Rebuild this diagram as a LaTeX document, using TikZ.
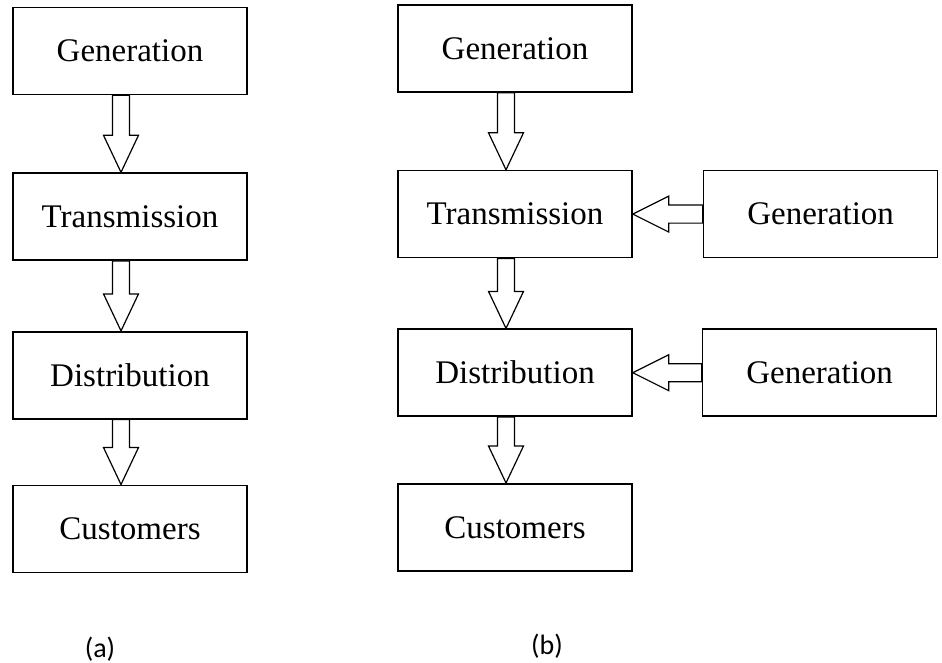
\documentclass[tikz,border=0pt]{standalone}
\usepackage{fontspec}
\setmainfont{Liberation Serif}
\newfontfamily\captionfont{Carlito}
\usetikzlibrary{positioning,calc}

% hollow block arrow going down from #1 to #2
\newcommand{\flowdown}[2]{%
    \draw[blockarrow]
        ($(#1.south)+(-17.5,0)$) -- ($(#1.south |- #2.north)+(-17.5,-37)$)
        -- ($(#1.south |- #2.north)+(-26.5,-37)$) -- ($(#1.south |- #2.north)+(-9,0)$)
        -- ($(#1.south |- #2.north)+(8.5,-37)$) -- ($(#1.south |- #2.north)+(-0.5,-37)$)
        -- ($(#1.south)+(-0.5,0)$) -- cycle;
}
% hollow block arrow going left from #1 to #2
\newcommand{\flowleft}[2]{%
    \draw[blockarrow]
        ($(#1.west)+(0,-9)$) -- ($(#1.west -| #2.east)+(36,-9)$)
        -- ($(#1.west -| #2.east)+(36,-18)$) -- (#1.west -| #2.east)
        -- ($(#1.west -| #2.east)+(36,18)$) -- ($(#1.west -| #2.east)+(36,9)$)
        -- ($(#1.west)+(0,9)$) -- cycle;
}

\begin{document}
\begin{tikzpicture}[%
    x=1pt, y=-1pt,
    box/.style={%
        draw,
        rectangle,
        line width=1.6pt,
        minimum width=234pt,
        minimum height=87pt,
        inner sep=2pt,
        font=\fontsize{33}{40}\selectfont
    },
    blockarrow/.style={%
        draw,
        fill=white,
        line width=1.2pt,
        line join=miter
    },
    caption/.style={%
        inner sep=0pt,
        font=\captionfont\fontsize{28}{32}\selectfont
    }
]
\useasboundingbox (0,0) rectangle (942,663);

% (a) single chain
\node[box] (genA) at (130,51) {Generation};
\node[box, below=77pt of genA] (transA) {Transmission};
\node[box, below=70pt of transA] (distA) {Distribution};
\node[box, below=65pt of distA] (custA) {Customers};

% (b) chain with extra generation
\node[box] (genB) at (515,48.5) {Generation};
\node[box, below=77pt of genB] (transB) {Transmission};
\node[box, below=70pt of transB] (distB) {Distribution};
\node[box, below=66pt of distB] (custB) {Customers};
\node[box, right=70pt of transB] (genC) {Generation};
\node[box, right=69pt of distB] (genD) {Generation};

% Captions
\node[caption] (capA) at (100,649) {(a)};
\node[caption] (capB) at (547,646) {(b)};

% Arrows
\flowdown{genA}{transA}
\flowdown{transA}{distA}
\flowdown{distA}{custA}

\flowdown{genB}{transB}
\flowdown{transB}{distB}
\flowdown{distB}{custB}

\flowleft{genC}{transB}
\flowleft{genD}{distB}

\end{tikzpicture}
\end{document}
